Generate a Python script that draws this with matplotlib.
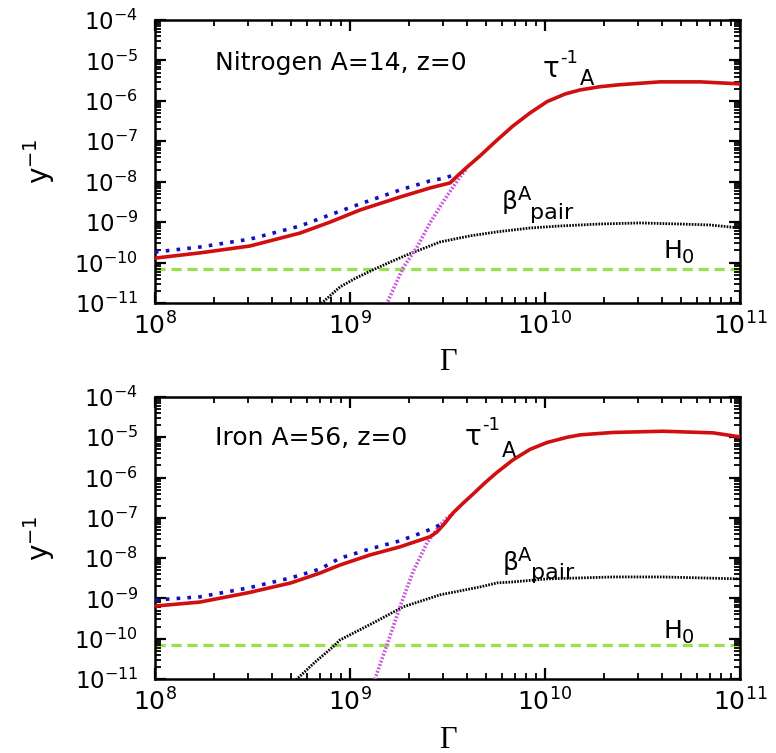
import matplotlib
matplotlib.use("Agg")
import matplotlib.pyplot as plt
from matplotlib.ticker import NullFormatter
import numpy as np

plt.rcParams['font.family'] = ['DejaVu Sans']
plt.rcParams['mathtext.fontset'] = 'dejavusans'

# values: log10(Gamma) and log10(rate / yr^-1)
# --- Nitrogen A=14, z=0 ---
n_tot_x = [8.0, 8.231, 8.487, 8.744, 8.897, 9.051, 9.256, 9.41, 9.513, 9.554, 9.6, 9.667, 9.754,
           9.836, 9.923, 10.01, 10.103, 10.18, 10.282, 10.385, 10.59, 10.795, 11.0]
n_tot_y = [-9.89, -9.76, -9.59, -9.27, -9.0, -8.7, -8.38, -8.155, -8.03, -7.84, -7.64, -7.36, -6.97,
           -6.62, -6.3, -6.02, -5.83, -5.73, -5.65, -5.6, -5.53, -5.53, -5.58]
n_ir_x = [8.0, 8.231, 8.487, 8.744, 8.897, 9.051, 9.256, 9.41, 9.487, 9.549]
n_ir_y = [-9.74, -9.615, -9.42, -9.095, -8.82, -8.55, -8.205, -7.98, -7.91, -7.8]
n_cmb_x = [9.169, 9.19, 9.272, 9.344, 9.41, 9.477, 9.564, 9.6]
n_cmb_y = [-11.3, -11.0, -10.13, -9.615, -9.02, -8.5, -7.88, -7.67]
n_pair_x = [8.821, 8.856, 8.949, 9.031, 9.118, 9.205, 9.292, 9.462, 9.615, 9.754, 9.923, 10.077,
            10.282, 10.487, 10.692, 10.846, 11.0]
n_pair_y = [-11.17, -11.0, -10.6, -10.38, -10.18, -9.99, -9.81, -9.49, -9.34, -9.24, -9.145, -9.095,
            -9.046, -9.02, -9.046, -9.07, -9.145]

# --- Iron A=56, z=0 ---
f_tot_x = [8.0, 8.231, 8.477, 8.697, 8.846, 8.949, 9.103, 9.256, 9.41, 9.446, 9.487, 9.528, 9.579,
           9.631, 9.692, 9.754, 9.836, 9.923, 10.01, 10.113, 10.18, 10.349, 10.605, 10.862, 11.0]
f_tot_y = [-9.19, -9.09, -8.86, -8.615, -8.37, -8.17, -7.92, -7.72, -7.47, -7.35, -7.13, -6.88, -6.64,
           -6.41, -6.13, -5.87, -5.56, -5.3, -5.13, -5.0, -4.94, -4.88, -4.85, -4.89, -4.99]
f_ir_x = [8.0, 8.231, 8.477, 8.697, 8.846, 8.949, 9.103, 9.256, 9.374, 9.43, 9.47]
f_ir_y = [-9.04, -8.96, -8.74, -8.49, -8.27, -8.0, -7.77, -7.57, -7.36, -7.25, -7.15]
f_cmb_x = [9.113, 9.128, 9.19, 9.256, 9.323, 9.395, 9.462, 9.5, 9.528]
f_cmb_y = [-11.27, -11.0, -10.15, -9.21, -8.34, -7.62, -7.18, -6.99, -6.9]
f_pair_x = [8.692, 8.728, 8.821, 8.913, 8.949, 9.118, 9.272, 9.462, 9.667, 9.754, 9.836, 10.01,
            10.349, 10.605, 11.0]
f_pair_y = [-11.27, -11.0, -10.58, -10.2, -10.03, -9.61, -9.21, -8.91, -8.715, -8.615, -8.59, -8.515,
            -8.467, -8.467, -8.515]

hubble = 7.0e-11  # H0 in 1/yr

W, H = 776, 753

panels = [
    dict(tot=(n_tot_x, n_tot_y), ir=(n_ir_x, n_ir_y),
         cmb=(n_cmb_x, n_cmb_y), pair=(n_pair_x, n_pair_y),
         box=(155, 20, 740, 303), gamma_y=362,
         labels=[("Nitrogen A=14, z=0", 215, 70, 18),
                 ("τ", 543, 77, 20), ("-1", 560, 63, 13), ("A", 580, 85, 15),
                 ("β", 502, 209, 18), ("A", 518, 200, 14), ("pair", 530, 219, 16),
                 ("H", 663, 258, 18), ("0", 682, 263, 14)]),
    dict(tot=(f_tot_x, f_tot_y), ir=(f_ir_x, f_ir_y),
         cmb=(f_cmb_x, f_cmb_y), pair=(f_pair_x, f_pair_y),
         box=(155, 397, 740, 679), gamma_y=740,
         labels=[("Iron A=56, z=0", 215, 445, 18),
                 ("τ", 465, 445, 20), ("-1", 482, 430, 13), ("A", 502, 457, 15),
                 ("β", 503, 570, 18), ("A", 518, 561, 14), ("pair", 531, 579, 16),
                 ("H", 663, 638, 18), ("0", 682, 643, 14)]),
]

x_minor = [s * 10.0 ** k for k in range(8, 11) for s in range(2, 10)]
y_minor = [s * 10.0 ** k for k in range(-11, -4) for s in range(2, 10)]

fig = plt.figure(figsize=(W / 100, H / 100), dpi=100)

for p in panels:
    x0, y0, x1, y1 = p['box']
    ax = fig.add_axes([x0 / W, 1 - y1 / H, (x1 - x0) / W, (y1 - y0) / H])
    g = lambda a: 10.0 ** np.array(a)

    ax.axhline(hubble, color='#9be04a', lw=2.3, ls=(0, (3.2, 1.8)), zorder=1)
    ax.plot(g(p['pair'][0]), g(p['pair'][1]), color='black', lw=2.0, ls=(0, (0.6, 0.45)), zorder=2)
    ax.plot(g(p['cmb'][0]), g(p['cmb'][1]), color='#cc55dd', lw=2.6, ls=(0, (0.5, 0.5)), zorder=3)
    ax.plot(g(p['tot'][0]), g(p['tot'][1]), color='#d01010', lw=2.6, zorder=4,
            solid_joinstyle='round')
    ax.plot(g(p['ir'][0]), g(p['ir'][1]), color='#1010c0', lw=2.6, ls=(0, (1, 2.0)),
            dash_capstyle='butt', zorder=5)

    ax.set_xscale('log')
    ax.set_yscale('log')
    ax.set_xlim(1e8, 1e11)
    ax.set_ylim(1e-11, 1e-4)
    ax.set_yticks([10.0 ** k for k in range(-11, -3)])
    ax.set_xticks([1e8, 1e9, 1e10, 1e11])
    ax.set_xticks(x_minor, minor=True)
    ax.set_yticks(y_minor, minor=True)
    ax.xaxis.set_minor_formatter(NullFormatter())
    ax.yaxis.set_minor_formatter(NullFormatter())

    ax.tick_params(axis='both', which='both', direction='in', top=True, bottom=True,
                   left=True, right=True)
    ax.tick_params(axis='both', which='major', length=8, width=1.6)
    ax.tick_params(axis='both', which='minor', length=4.5, width=1.3)
    ax.tick_params(axis='x', which='major', labelsize=18, pad=7)
    ax.tick_params(axis='y', which='major', labelsize=16.5, pad=12)
    for s in ax.spines.values():
        s.set_linewidth(1.8)

    ax.set_ylabel(r'y$^{-1}$', fontsize=20)
    ax.yaxis.set_label_coords(-(x0 - 57) / (x1 - x0), 0.5)
    ax.set_xlabel('Γ', fontsize=22, family='Liberation Serif')
    ax.xaxis.label.set_va('center')
    ax.xaxis.set_label_coords(0.5, -(p['gamma_y'] - y1) / (y1 - y0))

    for s, lx, ly, fs in p['labels']:
        fig.text(lx / W, 1 - ly / H, s, fontsize=fs, ha='left', va='baseline')

fig.savefig('out.png', dpi=100)
